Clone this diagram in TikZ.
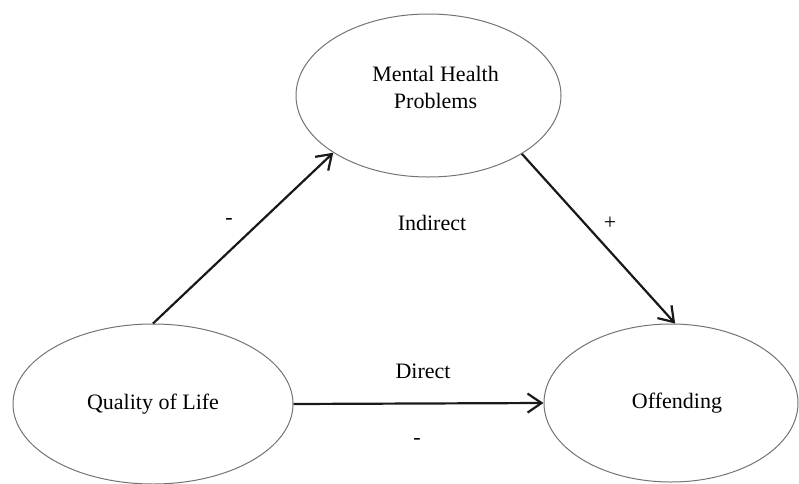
\documentclass[tikz,border=0pt]{standalone}
\usepackage{fontspec}
\setmainfont{Liberation Serif}
\usetikzlibrary{shapes.geometric,arrows.meta}

\begin{document}
\begin{tikzpicture}[
      x=0.5pt,y=-0.5pt,
      font=\fontsize{11}{13.5}\selectfont,
      blob/.style={
        ellipse,
        draw=black!55,
        line width=0.5pt,
        inner sep=0pt
      },
      pad/.style={
        line width=1.1pt,
        draw=black!90,
        -{Straight Barb[length=7pt,width=9.5pt,line width=1.1pt]}
      }
    ]
      \useasboundingbox (0,0) rectangle (799,483);

      \node (mhp) at (428.5,95.5) [blob,minimum width=132.5pt,minimum height=81.5pt,
        label={[align=center,xshift=3.5pt,yshift=4pt]center:Mental Health\\Problems}]{};
      \node (qol) at (153,404) [blob,minimum width=140pt,minimum height=80pt]{Quality of Life};
      \node (off) at (671,403) [blob,minimum width=127pt,minimum height=79pt,
        label={[xshift=3pt]center:Offending}]{};

      \node (ind) at (432,223) {Indirect};
      \node (dir) at (423,371) {Direct};
      \node (s1) at (229,221) {-};
      \node (s2) at (610,223) {+};
      \node (s3) at (417,441) {-};

      \draw[pad] (qol.north) -- (mhp.211.6);
      \draw[pad] (mhp.328.4) -- (off.87);
      \draw[pad] (qol.east) -- (off.west);

    \end{tikzpicture}
\end{document}
